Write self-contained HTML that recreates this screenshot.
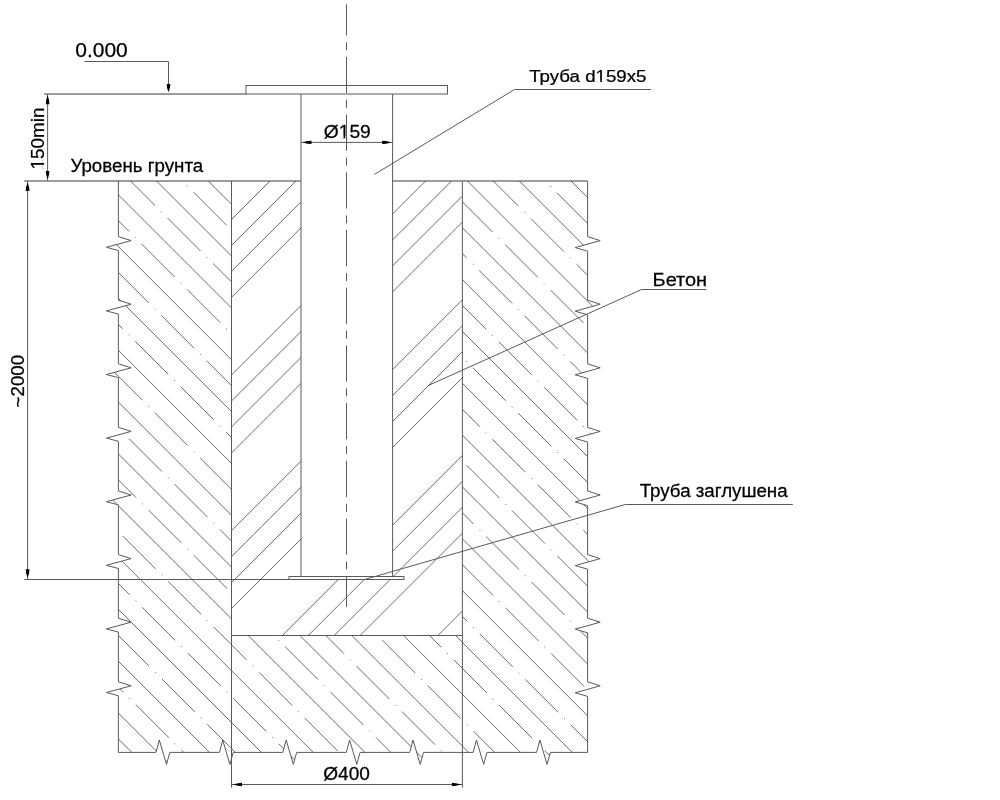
<!DOCTYPE html>
<html><head><meta charset="utf-8"><title>drawing</title>
<style>html,body{margin:0;padding:0;background:#fff;}svg{display:block;}</style>
</head><body>
<svg width="1000" height="800" viewBox="0 0 1000 800" style="will-change:transform">
<rect width="1000" height="800" fill="#fff"/>
<defs><clipPath id="soil"><path d="M118.4,181 L118.4,236.6 L131.15,240.6 L106.4,247.3 L118.4,250.5 L118.4,300.2 L131.15,304.2 L106.4,310.9 L118.4,314.1 L118.4,363.8 L131.15,367.8 L106.4,374.5 L118.4,377.7 L118.4,427.4 L131.15,431.4 L106.4,438.1 L118.4,441.3 L118.4,491 L131.15,495 L106.4,501.7 L118.4,504.9 L118.4,554.6 L131.15,558.6 L106.4,565.3 L118.4,568.5 L118.4,618.2 L131.15,622.2 L106.4,628.9 L118.4,632.1 L118.4,681.8 L131.15,685.8 L106.4,692.5 L118.4,695.7 L118.4,752.4 L156,752.4 L159.3,740 L166.5,764.4 L169.8,752.4 L219.43,752.4 L222.73,740 L229.93,764.4 L233.23,752.4 L282.86,752.4 L286.16,740 L293.36,764.4 L296.66,752.4 L346.29,752.4 L349.59,740 L356.79,764.4 L360.09,752.4 L409.72,752.4 L413.02,740 L420.22,764.4 L423.52,752.4 L473.15,752.4 L476.45,740 L483.65,764.4 L486.95,752.4 L536.58,752.4 L539.88,740 L547.08,764.4 L550.38,752.4 L587.6,752.4 L587.6,696.4 L575.2,692.8 L600.2,685.8 L587.6,681.8 L587.6,632.8 L575.2,629.2 L600.2,622.2 L587.6,618.2 L587.6,569.2 L575.2,565.6 L600.2,558.6 L587.6,554.6 L587.6,505.6 L575.2,502 L600.2,495 L587.6,491 L587.6,442 L575.2,438.4 L600.2,431.4 L587.6,427.4 L587.6,378.4 L575.2,374.8 L600.2,367.8 L587.6,363.8 L587.6,314.8 L575.2,311.2 L600.2,304.2 L587.6,300.2 L587.6,251.2 L575.2,247.6 L600.2,240.6 L587.6,236.6 L587.6,181 L462.4,181 L462.4,635.5 L231.5,635.5 L231.5,181 Z"/></clipPath><clipPath id="conc"><path d="M231.5,181 L231.5,635.5 L462.4,635.5 L462.4,181 L392.6,181 L392.6,579.5 L301,579.5 L301,181 Z"/></clipPath></defs>
<g clip-path="url(#soil)" stroke="#5a5a5a" stroke-width="0.9" fill="none"><line x1="-643.68" y1="210.18" x2="721.32" y2="1575.18"/><line x1="-630.72" y1="197.22" x2="734.28" y2="1562.22" stroke-dasharray="46.67 8.24 1.2 8.24"/><line x1="-617.76" y1="184.26" x2="747.24" y2="1549.26"/><line x1="-604.81" y1="171.31" x2="760.19" y2="1536.31" stroke-dasharray="46.67 8.24 1.2 8.24"/><line x1="-591.85" y1="158.35" x2="773.15" y2="1523.35"/><line x1="-578.89" y1="145.39" x2="786.11" y2="1510.39" stroke-dasharray="46.67 8.24 1.2 8.24"/><line x1="-565.93" y1="132.43" x2="799.07" y2="1497.43"/><line x1="-552.97" y1="119.47" x2="812.03" y2="1484.47" stroke-dasharray="46.67 8.24 1.2 8.24"/><line x1="-540.02" y1="106.52" x2="824.98" y2="1471.52"/><line x1="-527.06" y1="93.56" x2="837.94" y2="1458.56" stroke-dasharray="46.67 8.24 1.2 8.24"/><line x1="-514.1" y1="80.6" x2="850.9" y2="1445.6"/><line x1="-501.14" y1="67.64" x2="863.86" y2="1432.64" stroke-dasharray="46.67 8.24 1.2 8.24"/><line x1="-488.18" y1="54.68" x2="876.82" y2="1419.68"/><line x1="-475.23" y1="41.73" x2="889.77" y2="1406.73" stroke-dasharray="46.67 8.24 1.2 8.24"/><line x1="-462.27" y1="28.77" x2="902.73" y2="1393.77"/><line x1="-449.31" y1="15.81" x2="915.69" y2="1380.81" stroke-dasharray="46.67 8.24 1.2 8.24"/><line x1="-436.35" y1="2.85" x2="928.65" y2="1367.85"/><line x1="-423.39" y1="-10.11" x2="941.61" y2="1354.89" stroke-dasharray="46.67 8.24 1.2 8.24"/><line x1="-410.44" y1="-23.06" x2="954.56" y2="1341.94"/><line x1="-397.48" y1="-36.02" x2="967.52" y2="1328.98" stroke-dasharray="46.67 8.24 1.2 8.24"/><line x1="-384.52" y1="-48.98" x2="980.48" y2="1316.02"/><line x1="-371.56" y1="-61.94" x2="993.44" y2="1303.06" stroke-dasharray="46.67 8.24 1.2 8.24"/><line x1="-358.6" y1="-74.9" x2="1006.4" y2="1290.1"/><line x1="-345.65" y1="-87.85" x2="1019.35" y2="1277.15" stroke-dasharray="46.67 8.24 1.2 8.24"/><line x1="-332.69" y1="-100.81" x2="1032.31" y2="1264.19"/><line x1="-319.73" y1="-113.77" x2="1045.27" y2="1251.23" stroke-dasharray="46.67 8.24 1.2 8.24"/><line x1="-306.77" y1="-126.73" x2="1058.23" y2="1238.27"/><line x1="-293.81" y1="-139.69" x2="1071.19" y2="1225.31" stroke-dasharray="46.67 8.24 1.2 8.24"/><line x1="-280.86" y1="-152.64" x2="1084.14" y2="1212.36"/><line x1="-267.9" y1="-165.6" x2="1097.1" y2="1199.4" stroke-dasharray="46.67 8.24 1.2 8.24"/><line x1="-254.94" y1="-178.56" x2="1110.06" y2="1186.44"/><line x1="-241.98" y1="-191.52" x2="1123.02" y2="1173.48" stroke-dasharray="46.67 8.24 1.2 8.24"/><line x1="-229.02" y1="-204.48" x2="1135.98" y2="1160.52"/><line x1="-216.07" y1="-217.43" x2="1148.93" y2="1147.57" stroke-dasharray="46.67 8.24 1.2 8.24"/><line x1="-203.11" y1="-230.39" x2="1161.89" y2="1134.61"/><line x1="-190.15" y1="-243.35" x2="1174.85" y2="1121.65" stroke-dasharray="46.67 8.24 1.2 8.24"/><line x1="-177.19" y1="-256.31" x2="1187.81" y2="1108.69"/><line x1="-164.23" y1="-269.27" x2="1200.77" y2="1095.73" stroke-dasharray="46.67 8.24 1.2 8.24"/><line x1="-151.28" y1="-282.22" x2="1213.72" y2="1082.78"/><line x1="-138.32" y1="-295.18" x2="1226.68" y2="1069.82" stroke-dasharray="46.67 8.24 1.2 8.24"/><line x1="-125.36" y1="-308.14" x2="1239.64" y2="1056.86"/><line x1="-112.4" y1="-321.1" x2="1252.6" y2="1043.9" stroke-dasharray="46.67 8.24 1.2 8.24"/><line x1="-99.44" y1="-334.06" x2="1265.56" y2="1030.94"/><line x1="-86.49" y1="-347.01" x2="1278.51" y2="1017.99" stroke-dasharray="46.67 8.24 1.2 8.24"/><line x1="-73.53" y1="-359.97" x2="1291.47" y2="1005.03"/><line x1="-60.57" y1="-372.93" x2="1304.43" y2="992.07" stroke-dasharray="46.67 8.24 1.2 8.24"/><line x1="-47.61" y1="-385.89" x2="1317.39" y2="979.11"/><line x1="-34.65" y1="-398.85" x2="1330.35" y2="966.15" stroke-dasharray="46.67 8.24 1.2 8.24"/><line x1="-21.7" y1="-411.8" x2="1343.3" y2="953.2"/><line x1="-8.74" y1="-424.76" x2="1356.26" y2="940.24" stroke-dasharray="46.67 8.24 1.2 8.24"/><line x1="4.22" y1="-437.72" x2="1369.22" y2="927.28"/><line x1="17.18" y1="-450.68" x2="1382.18" y2="914.32" stroke-dasharray="46.67 8.24 1.2 8.24"/><line x1="30.14" y1="-463.64" x2="1395.14" y2="901.36"/><line x1="43.09" y1="-476.59" x2="1408.09" y2="888.41" stroke-dasharray="46.67 8.24 1.2 8.24"/><line x1="56.05" y1="-489.55" x2="1421.05" y2="875.45"/><line x1="69.01" y1="-502.51" x2="1434.01" y2="862.49" stroke-dasharray="46.67 8.24 1.2 8.24"/><line x1="81.97" y1="-515.47" x2="1446.97" y2="849.53"/><line x1="94.93" y1="-528.43" x2="1459.93" y2="836.57" stroke-dasharray="46.67 8.24 1.2 8.24"/><line x1="107.88" y1="-541.38" x2="1472.88" y2="823.62"/><line x1="120.84" y1="-554.34" x2="1485.84" y2="810.66" stroke-dasharray="46.67 8.24 1.2 8.24"/></g>
<g clip-path="url(#conc)" stroke="#5a5a5a" stroke-width="0.9" fill="none"><line x1="100" y1="91.67" x2="700" y2="-508.33"/><line x1="100" y1="117.6" x2="700" y2="-482.4"/><line x1="100" y1="195.4" x2="700" y2="-404.6"/><line x1="100" y1="221.34" x2="700" y2="-378.66"/><line x1="100" y1="247.27" x2="700" y2="-352.73"/><line x1="100" y1="273.2" x2="700" y2="-326.8"/><line x1="100" y1="351" x2="700" y2="-249"/><line x1="100" y1="376.93" x2="700" y2="-223.07"/><line x1="100" y1="402.87" x2="700" y2="-197.13"/><line x1="100" y1="428.8" x2="700" y2="-171.2"/><line x1="100" y1="506.6" x2="700" y2="-93.4"/><line x1="100" y1="532.53" x2="700" y2="-67.47"/><line x1="100" y1="558.46" x2="700" y2="-41.54"/><line x1="100" y1="584.4" x2="700" y2="-15.6"/><line x1="100" y1="662.2" x2="700" y2="62.2"/><line x1="100" y1="688.13" x2="700" y2="88.13"/><line x1="100" y1="714.06" x2="700" y2="114.06"/><line x1="100" y1="740" x2="700" y2="140"/><line x1="100" y1="817.79" x2="700" y2="217.79"/><line x1="100" y1="843.73" x2="700" y2="243.73"/><line x1="100" y1="869.66" x2="700" y2="269.66"/><line x1="100" y1="895.59" x2="700" y2="295.59"/><line x1="100" y1="973.39" x2="700" y2="373.39"/><line x1="100" y1="999.33" x2="700" y2="399.33"/><line x1="100" y1="1025.26" x2="700" y2="425.26"/><line x1="100" y1="1051.19" x2="700" y2="451.19"/><line x1="100" y1="1128.99" x2="700" y2="528.99"/><line x1="100" y1="1154.92" x2="700" y2="554.92"/><line x1="100" y1="1180.86" x2="700" y2="580.86"/><line x1="100" y1="1206.79" x2="700" y2="606.79"/><line x1="100" y1="1284.59" x2="700" y2="684.59"/><line x1="100" y1="1310.52" x2="700" y2="710.52"/><line x1="100" y1="1336.45" x2="700" y2="736.45"/><line x1="100" y1="1362.39" x2="700" y2="762.39"/></g>
<g font-family="'Liberation Sans', sans-serif" fill="#000" stroke="#000" stroke-width="0.25"><g transform="translate(75.2 57.3) scale(1 1)"><text x="0" y="0" font-size="21" text-anchor="start">0.000</text></g><g transform="translate(44.3 169.4) rotate(-90) scale(1 1)"><text x="0" y="0" font-size="18.9" text-anchor="start">150min</text><rect x="0.92" y="-1.98" width="3.8" height="2.68" fill="#fff" stroke="none"/><rect x="6.45" y="-1.98" width="3.79" height="2.68" fill="#fff" stroke="none"/></g><g transform="translate(70.4 172.3) scale(1.07 1)"><text x="0" y="0" font-size="17.5" text-anchor="start">Уровень грунта</text></g><g transform="translate(23.8 407.4) rotate(-90) scale(1 1)"><text x="0" y="0" font-size="18.7" text-anchor="start">~2000</text></g><g transform="translate(347.25 137.8) scale(1.04 1)"><text x="0" y="0" font-size="18.5" text-anchor="middle">Ø159</text><rect x="-7.34" y="-1.94" width="3.72" height="2.62" fill="#fff" stroke="none"/><rect x="-1.93" y="-1.94" width="3.71" height="2.62" fill="#fff" stroke="none"/></g><g transform="translate(346.6 780) scale(1.06 1)"><text x="0" y="0" font-size="18" text-anchor="middle">Ø400</text></g><g transform="translate(529.2 81.5) scale(1.1 1)"><text x="0" y="0" font-size="17" text-anchor="start">Труба d159x5</text><rect x="61.15" y="-1.78" width="3.42" height="2.41" fill="#fff" stroke="none"/><rect x="66.12" y="-1.78" width="3.41" height="2.41" fill="#fff" stroke="none"/></g><g transform="translate(652.6 286.1) scale(1.14 1)"><text x="0" y="0" font-size="17.5" text-anchor="start">Бетон</text></g><g transform="translate(639.7 497.3) scale(1.07 1)"><text x="0" y="0" font-size="17.5" text-anchor="start">Труба заглушена</text></g></g>
<g stroke="#5a5a5a" stroke-width="1.0" fill="none"><polyline points="118.4,181 118.4,236.6 131.15,240.6 106.4,247.3 118.4,250.5 118.4,300.2 131.15,304.2 106.4,310.9 118.4,314.1 118.4,363.8 131.15,367.8 106.4,374.5 118.4,377.7 118.4,427.4 131.15,431.4 106.4,438.1 118.4,441.3 118.4,491 131.15,495 106.4,501.7 118.4,504.9 118.4,554.6 131.15,558.6 106.4,565.3 118.4,568.5 118.4,618.2 131.15,622.2 106.4,628.9 118.4,632.1 118.4,681.8 131.15,685.8 106.4,692.5 118.4,695.7 118.4,752.4 156,752.4 159.3,740 166.5,764.4 169.8,752.4 219.43,752.4 222.73,740 229.93,764.4 233.23,752.4 282.86,752.4 286.16,740 293.36,764.4 296.66,752.4 346.29,752.4 349.59,740 356.79,764.4 360.09,752.4 409.72,752.4 413.02,740 420.22,764.4 423.52,752.4 473.15,752.4 476.45,740 483.65,764.4 486.95,752.4 536.58,752.4 539.88,740 547.08,764.4 550.38,752.4 587.6,752.4 587.6,696.4 575.2,692.8 600.2,685.8 587.6,681.8 587.6,632.8 575.2,629.2 600.2,622.2 587.6,618.2 587.6,569.2 575.2,565.6 600.2,558.6 587.6,554.6 587.6,505.6 575.2,502 600.2,495 587.6,491 587.6,442 575.2,438.4 600.2,431.4 587.6,427.4 587.6,378.4 575.2,374.8 600.2,367.8 587.6,363.8 587.6,314.8 575.2,311.2 600.2,304.2 587.6,300.2 587.6,251.2 575.2,247.6 600.2,240.6 587.6,236.6 587.6,181"/><line x1="24.25" y1="181" x2="301" y2="181" stroke="#3a3a3a"/><line x1="392.6" y1="181" x2="587.6" y2="181" stroke="#3a3a3a"/><line x1="44" y1="94" x2="246" y2="94" stroke="#3a3a3a"/><rect x="246" y="85.5" width="201.5" height="8.5"/><line x1="301" y1="94" x2="301" y2="576.5"/><line x1="392.6" y1="94" x2="392.6" y2="576.5"/><rect x="289" y="576.5" width="115" height="3"/><line x1="24.25" y1="579.5" x2="289" y2="579.5"/><line x1="231.5" y1="181" x2="231.5" y2="787.6"/><line x1="462.4" y1="181" x2="462.4" y2="787.6"/><line x1="231.5" y1="635.5" x2="462.4" y2="635.5"/><line x1="47.6" y1="94" x2="47.6" y2="181"/><line x1="27.6" y1="181" x2="27.6" y2="579.5"/><line x1="301" y1="142.4" x2="392.6" y2="142.4"/><line x1="231.5" y1="784.5" x2="462.4" y2="784.5"/><polyline points="84.5,61.5 168.5,61.5 168.5,90"/><polyline points="374.4,174.4 514.5,89.5 651,89.5"/><polyline points="427.6,385.8 641.6,289.5 706.5,289.5"/><polyline points="364.5,579.5 625.2,504.5 792.8,504.5"/><line x1="346.5" y1="4.4" x2="346.5" y2="607" stroke-dasharray="36.2 6.8 8 6.7" stroke-dashoffset="5.2"/></g>
<g fill="#000" stroke="none"><polygon points="168.5,92.2 167.06,87.69 166.7,84 170.3,84 169.94,87.69" /><polygon points="47.6,95.3 49.04,100.25 49.4,104.3 45.8,104.3 46.16,100.25" /><polygon points="47.6,179.3 46.16,174.74 45.8,171 49.4,171 49.04,174.74" /><polygon points="27.6,182.7 29.12,187.21 29.5,190.9 25.7,190.9 26.08,187.21" /><polygon points="27.6,577.8 26.08,573.12 25.7,569.3 29.5,569.3 29.12,573.12" /><polygon points="302.5,142.4 307.45,141.04 311.5,140.7 311.5,144.1 307.45,143.76" /><polygon points="391.1,142.4 386.15,143.76 382.1,144.1 382.1,140.7 386.15,141.04" /><polygon points="233,784.5 237.95,783.14 242,782.8 242,786.2 237.95,785.86" /><polygon points="460.9,784.5 455.95,785.86 451.9,786.2 451.9,782.8 455.95,783.14" /></g>
</svg>
</body></html>
